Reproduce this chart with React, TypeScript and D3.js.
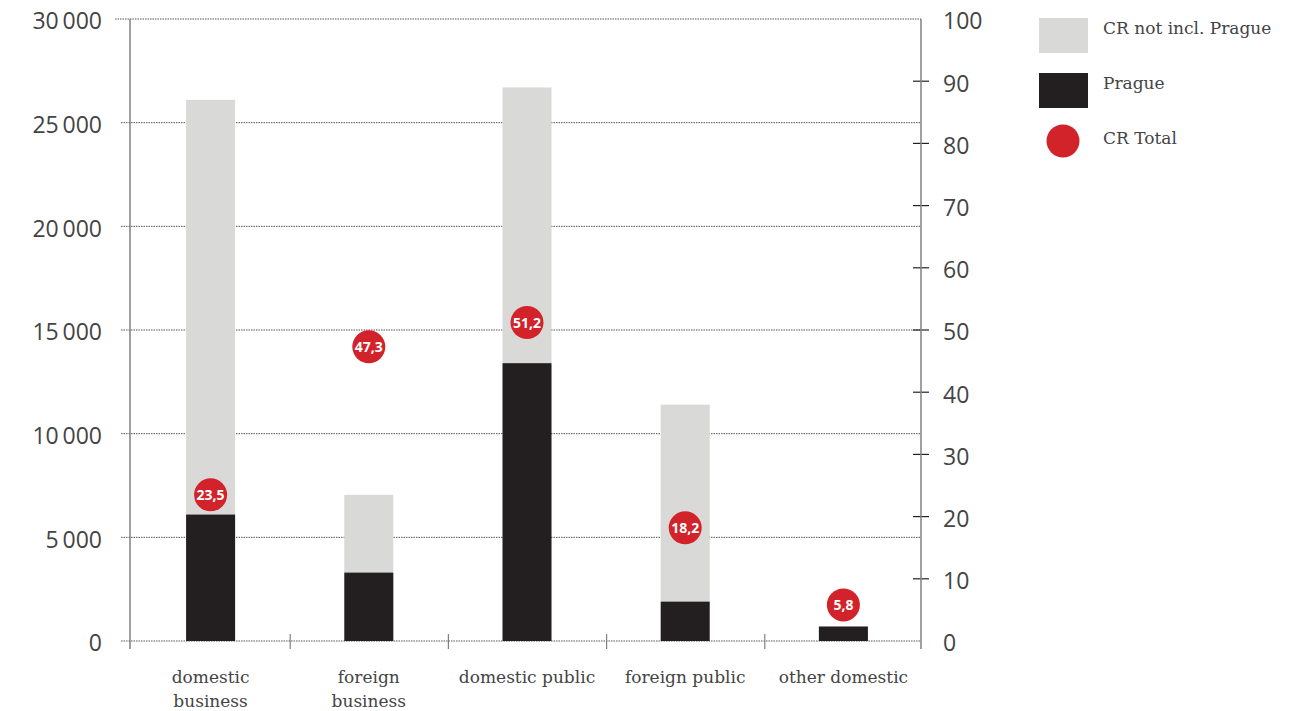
import React, { useEffect, useRef } from "react";
import * as d3 from "d3";

const categories: string[][] = [
  ["domestic", "business"],
  ["foreign", "business"],
  ["domestic public"],
  ["foreign public"],
  ["other domestic"],
];
const pragueValues = [6100, 3300, 13400, 1900, 700];
const restValues = [20000, 3750, 13300, 9500, 0];
const totalShare = [23.5, 47.3, 51.2, 18.2, 5.8];
const leftTicks = [0, 5000, 10000, 15000, 20000, 25000, 30000];
const rightTicks = [0, 10, 20, 30, 40, 50, 60, 70, 80, 90, 100];
const legendItems = ["CR not incl. Prague", "Prague", "CR Total"];

const LIGHT = "#d9d9d7";
const DARK = "#231f20";
const RED = "#d2232a";

const App: React.FC = () => {
  const svgRef = useRef<SVGSVGElement | null>(null);

  useEffect(() => {
    const svg = d3.select(svgRef.current);
    svg.selectAll("*").remove();

    const left = 130;
    const right = 921;
    const top = 19;
    const bottom = 641;

    const keys = categories.map((c) => c.join(" "));
    const x = d3.scaleBand().domain(keys).range([left, right]);
    const yL = d3.scaleLinear().domain([0, 30000]).range([bottom, top]);
    const yR = d3.scaleLinear().domain([0, 100]).range([bottom, top]);
    const barW = x.bandwidth() * 0.31;
    const cx = (k: string) => x(k)! + x.bandwidth() / 2 + 1.5;

    // gridlines (dotted)
    svg
      .append("g")
      .selectAll("line")
      .data(leftTicks)
      .join("line")
      .attr("x1", (d) => (d === 30000 ? 115 : 121))
      .attr("x2", right)
      .attr("y1", (d) => yL(d))
      .attr("y2", (d) => yL(d))
      .attr("stroke", "#555")
      .attr("stroke-width", 1)
      .attr("stroke-dasharray", "1.5,1");

    // left tick labels
    svg
      .append("g")
      .selectAll("text")
      .data(leftTicks)
      .join("text")
      .attr("x", 102)
      .attr("y", (d) => yL(d))
      .attr("dy", "0.45em")
      .attr("text-anchor", "end")
      .attr("fill", "#444")
      .style("font-family", "'Open Sans', sans-serif")
      .style("font-size", "23px")
      .text((d) => d3.format(",")(d).replace(/,/g, "\u2009"));

    // right tick labels
    svg
      .append("g")
      .selectAll("text")
      .data(rightTicks)
      .join("text")
      .attr("x", 943)
      .attr("y", (d) => yR(d))
      .attr("dy", "0.45em")
      .attr("fill", "#444")
      .style("font-family", "'Open Sans', sans-serif")
      .style("font-size", "23px")
      .text((d) => d);

    // right ticks
    svg
      .append("g")
      .selectAll("line")
      .data(rightTicks.filter((d) => d > 0 && d < 100))
      .join("line")
      .attr("x1", 913)
      .attr("x2", 929)
      .attr("y1", (d) => yR(d))
      .attr("y2", (d) => yR(d))
      .attr("stroke", "#222")
      .attr("stroke-width", 1.2);

    // stacked bars
    const g = svg.append("g");
    keys.forEach((k, i) => {
      const bx = cx(k) - barW / 2;
      g.append("rect")
        .attr("x", bx)
        .attr("width", barW)
        .attr("y", yL(pragueValues[i] + restValues[i]))
        .attr("height", yL(pragueValues[i]) - yL(pragueValues[i] + restValues[i]))
        .attr("fill", LIGHT);
      g.append("rect")
        .attr("x", bx)
        .attr("width", barW)
        .attr("y", yL(pragueValues[i]))
        .attr("height", bottom - yL(pragueValues[i]))
        .attr("fill", DARK);
    });

    // axes lines
    [left, right].forEach((ax) => {
      svg
        .append("line")
        .attr("x1", ax)
        .attr("x2", ax)
        .attr("y1", top)
        .attr("y2", 649)
        .attr("stroke", "#808080")
        .attr("stroke-width", 1.5);
    });

    // category separator ticks
    svg
      .append("g")
      .selectAll("line")
      .data(keys.slice(1))
      .join("line")
      .attr("x1", (d) => x(d)! + 2)
      .attr("x2", (d) => x(d)! + 2)
      .attr("y1", 634)
      .attr("y2", 649)
      .attr("stroke", "#808080")
      .attr("stroke-width", 1.2);

    // category labels
    svg
      .append("g")
      .selectAll("text")
      .data(categories)
      .join("text")
      .attr("y", 683)
      .attr("text-anchor", "middle")
      .attr("fill", "#444")
      .style("font-family", "'DejaVu Serif', serif")
      .style("font-size", "17px")
      .each(function (d) {
        const t = d3.select(this);
        d.forEach((line, j) => {
          t.append("tspan")
            .attr("x", cx(d.join(" ")))
            .attr("dy", j === 0 ? 0 : 24)
            .text(line);
        });
      });

    // red dots (right axis)
    const dots = svg
      .append("g")
      .selectAll("g")
      .data(totalShare)
      .join("g")
      .attr("transform", (d, i) => `translate(${cx(keys[i])},${yR(d)})`);
    dots.append("circle").attr("r", 16.5).attr("fill", RED);
    dots
      .append("text")
      .attr("text-anchor", "middle")
      .attr("dy", "0.36em")
      .attr("fill", "white")
      .style("font-family", "'Open Sans', sans-serif")
      .style("font-size", "14px")
      .style("font-weight", "bold")
      .text((d) => d.toFixed(1).replace(".", ","));

    // legend
    const lg = svg.append("g");
    lg.append("rect").attr("x", 1039).attr("y", 18).attr("width", 49).attr("height", 35).attr("fill", LIGHT);
    lg.append("rect").attr("x", 1039).attr("y", 73).attr("width", 49).attr("height", 35).attr("fill", DARK);
    lg.append("circle").attr("cx", 1063).attr("cy", 141).attr("r", 16.5).attr("fill", RED);
    lg.selectAll("text")
      .data(legendItems)
      .join("text")
      .attr("x", 1103)
      .attr("y", (d, i) => 28 + i * 55)
      .attr("dy", "0.36em")
      .attr("fill", "#444")
      .style("font-family", "'DejaVu Serif', serif")
      .style("font-size", "17px")
      .text((d) => d);
  }, []);

  return (
    <div style={{ position: "absolute", top: 0, left: 0, width: 1303, height: 711, background: "white" }}>
      <svg ref={svgRef} width={1303} height={711} style={{ display: "block" }} />
    </div>
  );
};

export default App;
